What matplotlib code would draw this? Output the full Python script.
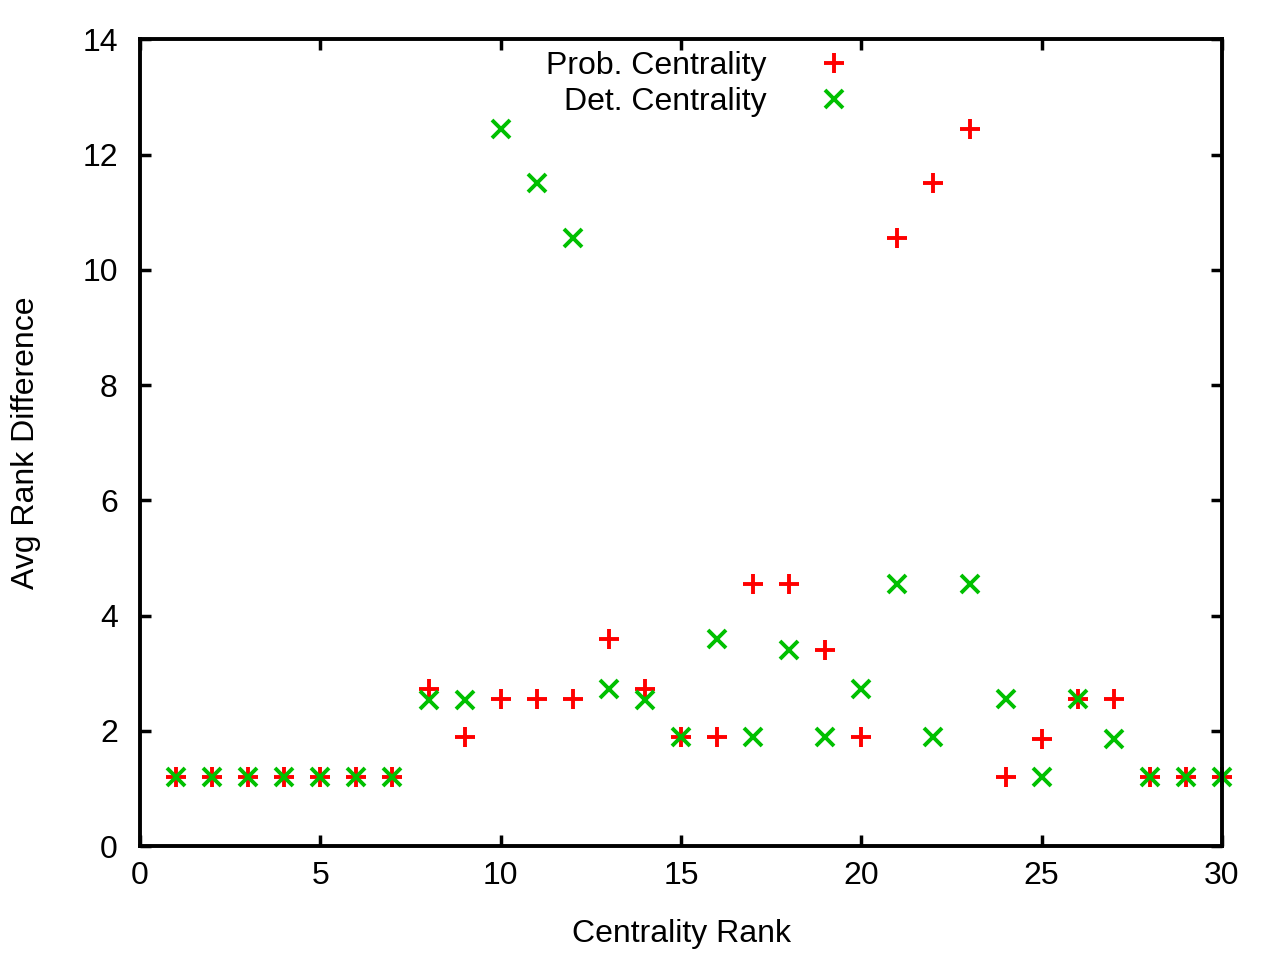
import matplotlib
matplotlib.use("Agg")
import matplotlib.pyplot as plt

plt.rcParams['font.family'] = ['Liberation Sans', 'DejaVu Sans']

ranks = list(range(1, 31))
prob_vals = [1.2, 1.2, 1.2, 1.2, 1.2, 1.2, 1.2, 2.72, 1.89, 2.545,
             2.545, 2.545, 3.6, 2.72, 1.89, 1.89, 4.54, 4.54, 3.395, 1.89,
             10.56, 11.5, 12.45, 1.2, 1.85, 2.545, 2.545, 1.2, 1.2, 1.2]
det_vals = [1.2, 1.2, 1.2, 1.2, 1.2, 1.2, 1.2, 2.53, 2.53, 12.45,
            11.5, 10.56, 2.72, 2.53, 1.89, 3.6, 1.89, 3.395, 1.89, 2.72,
            4.54, 1.89, 4.54, 2.545, 1.2, 2.545, 1.85, 1.2, 1.2, 1.2]
x_ticks = [0, 5, 10, 15, 20, 25, 30]
y_ticks = [0, 2, 4, 6, 8, 10, 12, 14]

fig = plt.figure(figsize=(12.8, 9.6), dpi=100)
ax = fig.add_axes([0.1094, 0.11875, 0.8453, 0.84025])

fs = 23
ax.plot(ranks, prob_vals, linestyle='none', marker='+', color='#ff0000',
        markersize=14, markeredgewidth=2.8, label='Prob. Centrality', clip_on=False)
ax.plot(ranks, det_vals, linestyle='none', marker='x', color='#00c000',
        markersize=12.5, markeredgewidth=2.8, label='Det. Centrality', clip_on=False)

ax.set_xlim(0, 30)
ax.set_ylim(0, 14)
ax.set_xticks(x_ticks)
ax.set_yticks(y_ticks)
ax.tick_params(direction='in', length=8, width=2.5, labelsize=fs,
               top=True, right=True)
ax.tick_params(axis='x', pad=11)
ax.tick_params(axis='y', pad=16)
for s in ax.spines.values():
    s.set_linewidth(2.8)

ax.set_xlabel('Centrality Rank', fontsize=fs, labelpad=20)
ax.set_ylabel('Avg Rank Difference', fontsize=fs, labelpad=30)

ax.legend(loc='upper right', bbox_to_anchor=(0.6885, 0.9975), frameon=False,
          markerfirst=False, fontsize=fs, handlelength=2.6, handletextpad=0.8,
          labelspacing=0.2, borderaxespad=0.0, borderpad=0.3)

fig.savefig('out.png', dpi=100)
